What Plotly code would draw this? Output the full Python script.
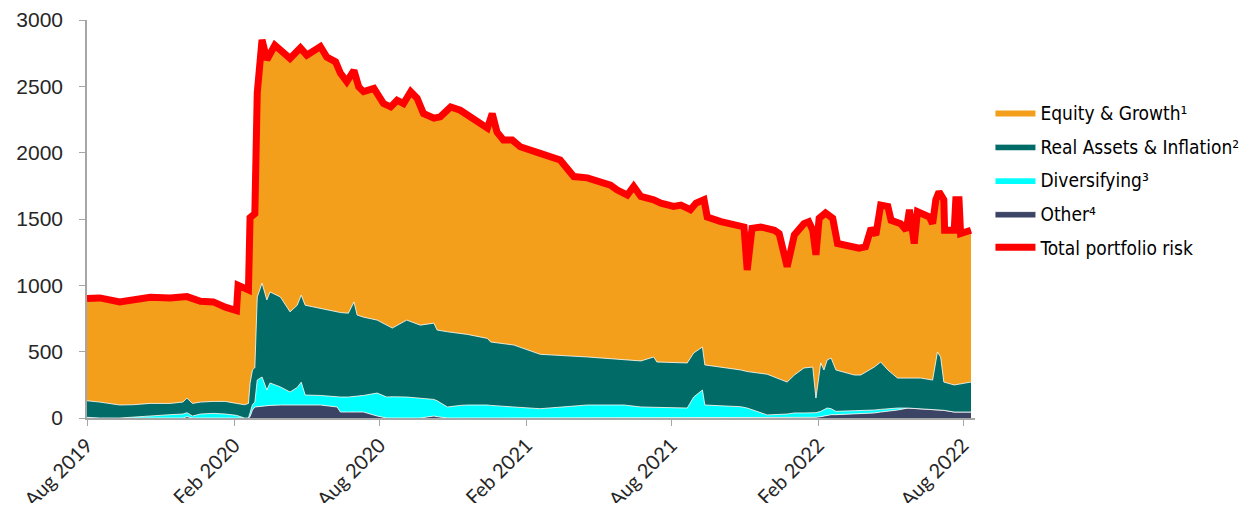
import plotly.graph_objects as go

# ---- Data ----
total_dates = [
    "2019-08-01", "2019-08-17", "2019-09-11", "2019-09-28", "2019-10-19", "2019-11-13", "2019-12-04",
    "2019-12-21", "2020-01-06", "2020-01-21", "2020-02-04", "2020-02-06", "2020-02-14", "2020-02-19",
    "2020-02-21", "2020-02-27", "2020-03-01", "2020-03-07", "2020-03-13", "2020-03-23", "2020-04-11",
    "2020-04-24", "2020-05-02", "2020-05-19", "2020-05-27", "2020-06-07", "2020-06-13", "2020-06-21",
    "2020-06-30", "2020-07-06", "2020-07-12", "2020-07-25", "2020-08-06", "2020-08-15", "2020-08-23",
    "2020-08-31", "2020-09-09", "2020-09-17", "2020-09-25", "2020-10-08", "2020-10-16", "2020-10-29",
    "2020-11-10", "2020-11-23", "2020-12-05", "2020-12-14", "2020-12-20", "2020-12-26", "2021-01-03",
    "2021-01-14", "2021-01-24", "2021-02-06", "2021-02-18", "2021-03-15", "2021-04-01", "2021-04-18",
    "2021-05-05", "2021-05-17", "2021-05-25", "2021-06-07", "2021-06-15", "2021-06-24", "2021-07-10",
    "2021-07-19", "2021-08-04", "2021-08-13", "2021-08-25", "2021-09-01", "2021-09-11", "2021-09-15",
    "2021-10-02", "2021-10-18", "2021-10-31", "2021-11-04", "2021-11-10", "2021-11-21", "2021-12-08",
    "2021-12-14", "2021-12-24", "2022-01-02", "2022-01-14", "2022-01-20", "2022-01-25", "2022-01-29",
    "2022-02-02", "2022-02-10", "2022-02-19", "2022-02-25", "2022-03-09", "2022-03-24", "2022-04-01",
    "2022-04-08", "2022-04-14", "2022-04-20", "2022-04-29", "2022-05-03", "2022-05-15", "2022-05-22",
    "2022-05-26", "2022-06-01", "2022-06-05", "2022-06-20", "2022-06-24", "2022-06-28", "2022-07-02",
    "2022-07-08", "2022-07-09", "2022-07-21", "2022-07-23", "2022-07-27", "2022-07-29", "2022-08-11",
]
total_risk = [
    900, 905, 875, 885, 910, 905, 915,
    880, 875, 835, 810, 1000, 975, 965,
    1510, 1540, 2450, 2850, 2700, 2810, 2710,
    2790, 2735, 2800, 2720, 2685, 2600, 2535,
    2620, 2495, 2460, 2485, 2370, 2345, 2395,
    2370, 2460, 2410, 2295, 2260, 2270, 2345,
    2320, 2270, 2210, 2185, 2295, 2155, 2095,
    2095, 2045, 2025, 1995, 1945, 1820, 1810,
    1770, 1755, 1720, 1680, 1745, 1670, 1645,
    1620, 1595, 1605, 1570, 1620, 1645, 1515,
    1480, 1455, 1440, 1115, 1430, 1440, 1415,
    1390, 1140, 1380, 1465, 1480, 1415, 1230,
    1505, 1545, 1505, 1315, 1300, 1280, 1290,
    1430, 1380, 1605, 1595, 1490, 1465, 1415,
    1570, 1315, 1555, 1515, 1465, 1645, 1705,
    1645, 1415, 1415, 1645, 1645, 1390, 1415,
]

comp_dates = [
    "2019-08-01", "2019-08-17", "2019-09-11", "2019-09-28", "2019-10-19", "2019-11-13", "2019-11-29",
    "2019-12-04", "2019-12-11", "2019-12-21", "2020-01-06", "2020-01-21", "2020-02-04", "2020-02-14",
    "2020-02-19", "2020-02-21", "2020-02-24", "2020-02-27", "2020-03-01", "2020-03-07", "2020-03-13",
    "2020-03-17", "2020-03-30", "2020-04-11", "2020-04-20", "2020-04-25", "2020-04-30", "2020-05-19",
    "2020-06-09", "2020-06-13", "2020-06-23", "2020-06-30", "2020-07-04", "2020-07-12", "2020-07-29",
    "2020-08-10", "2020-08-17", "2020-09-04", "2020-09-21", "2020-10-08", "2020-10-12", "2020-10-25",
    "2020-11-10", "2020-11-19", "2020-12-14", "2020-12-18", "2021-01-16", "2021-02-18", "2021-04-18",
    "2021-06-03", "2021-06-24", "2021-07-10", "2021-07-14", "2021-08-21", "2021-08-29", "2021-09-09",
    "2021-09-12", "2021-10-27", "2021-11-04", "2021-11-29", "2021-12-24", "2022-01-02", "2022-01-14",
    "2022-01-25", "2022-01-29", "2022-02-04", "2022-02-08", "2022-02-12", "2022-02-17", "2022-02-23",
    "2022-03-18", "2022-03-26", "2022-04-12", "2022-04-20", "2022-04-29", "2022-05-11", "2022-05-24",
    "2022-06-09", "2022-06-24", "2022-06-30", "2022-07-04", "2022-07-08", "2022-07-21", "2022-08-11",
]
other = [
    0, 0, 0, 0, 0, 0, 0,
    10, 0, 0, 0, 0, 0, 0,
    0, 10, 60, 83, 85, 90, 95,
    95, 98, 98, 98, 98, 98, 98,
    83, 45, 45, 45, 45, 45, 15,
    0, 0, 0, 0, 15, 10, 0,
    0, 0, 0, 0, 0, 0, 0,
    0, 0, 0, 0, 0, 0, 0,
    0, 0, 0, 0, 0, 0, 0,
    0, 5, 10, 15, 23, 25, 25,
    30, 30, 38, 45, 50, 60, 75,
    70, 65, 60, 60, 58, 45, 45,
]
diversifying = [
    5, 0, 0, 5, 15, 25, 30,
    30, 15, 30, 35, 30, 20, 0,
    0, 30, 40, 37, 201, 219, 116,
    169, 136, 98, 132, 172, 75, 72,
    75, 113, 113, 120, 120, 125, 173,
    158, 160, 158, 150, 125, 120, 83,
    95, 98, 98, 95, 83, 70, 98,
    98, 83, 80, 80, 75, 158, 211,
    98, 85, 75, 23, 30, 38, 38,
    38, 35, 40, 45, 52, 45, 25,
    25, 25, 22, 20, 20, 15, 0,
    0, 0, 0, 0, 0, 0, 0,
]
real_assets = [
    125, 120, 98, 95, 95, 85, 90,
    110, 95, 90, 90, 95, 90, 100,
    110, 220, 262, 260, 626, 708, 679,
    686, 678, 604, 620, 657, 677, 657,
    642, 637, 632, 710, 611, 590, 550,
    542, 518, 580, 550, 575, 533, 567,
    545, 532, 502, 478, 467, 410, 362,
    339, 347, 380, 342, 340, 332, 324,
    302, 277, 275, 307, 241, 286, 339,
    346, 110, 365, 302, 362, 382, 312,
    269, 269, 324, 357, 292, 226, 225,
    231, 221, 437, 400, 213, 204, 226,
]

tick_dates = ["2019-08-01", "2020-02-01", "2020-08-01", "2021-02-01", "2021-08-01", "2022-02-01", "2022-08-01"]
tick_labels = ["Aug 2019", "Feb 2020", "Aug 2020", "Feb 2021", "Aug 2021", "Feb 2022", "Aug 2022"]

names = ["Equity & Growth¹", "Real Assets & Inflation²", "Diversifying³", "Other⁴", "Total portfolio risk"]
colors = {"equity": "#F49F1C", "real": "#016B68", "div": "#00FFFF", "other": "#3C4465", "total": "#FF0000"}

fig = go.Figure()

# Equity & Growth fills the band between the lower stack and total; drawn first, lower stack covers it.
fig.add_trace(go.Scatter(x=total_dates, y=total_risk, name=names[0], mode="lines", fill="tozeroy",
                         line=dict(width=0, color=colors["equity"]), fillcolor=colors["equity"],
                         legendrank=1, legendgroup="g1"))
edge = dict(color="white", width=0.8)
fig.add_trace(go.Scatter(x=comp_dates, y=other, name=names[3], stackgroup="lower", mode="lines",
                         line=edge, fillcolor=colors["other"], legendrank=4, legendgroup="g4"))
fig.add_trace(go.Scatter(x=comp_dates, y=diversifying, name=names[2], stackgroup="lower", mode="lines",
                         line=edge, fillcolor=colors["div"], legendrank=3, legendgroup="g3"))
fig.add_trace(go.Scatter(x=comp_dates, y=real_assets, name=names[1], stackgroup="lower", mode="lines",
                         line=edge, fillcolor=colors["real"], legendrank=2, legendgroup="g2"))
fig.add_trace(go.Scatter(x=total_dates, y=total_risk, name=names[4], mode="lines",
                         line=dict(width=7, color=colors["total"]), legendrank=5, legendgroup="g5"))

axis_color = "#A6A6A6"
# The page body adds an 8px offset on every side, so the figure is sized to fit inside the window.
fig.update_layout(
    width=1235, height=495,
    margin=dict(l=79, r=268, t=12, b=85),
    paper_bgcolor="white", plot_bgcolor="white",
    showlegend=True,
    legend=dict(xref="container", yref="container", x=0.7955, y=0.827, xanchor="left", yanchor="top",
                font=dict(family="Liberation Sans Narrow, Arial Narrow, DejaVu Sans Condensed, sans-serif",
                          size=19, color="#000000"),
                traceorder="grouped", tracegroupgap=6, itemwidth=40, bgcolor="rgba(0,0,0,0)"),
    xaxis=dict(type="date", range=["2019-08-01", "2022-08-16"], automargin=False,
               tickvals=tick_dates, ticktext=tick_labels, tickangle=-45,
               showline=True, linecolor=axis_color, linewidth=1.5,
               ticks="outside", ticklen=6, tickcolor=axis_color,
               showgrid=False, zeroline=False,
               tickfont=dict(family="Lato, Open Sans, sans-serif", size=20, color="#262626")),
    yaxis=dict(range=[0, 3000], tickvals=[0, 500, 1000, 1500, 2000, 2500, 3000], automargin=False,
               showline=True, linecolor=axis_color, linewidth=1.5,
               ticks="outside", ticklen=6, tickcolor=axis_color, ticklabelstandoff=12,
               showgrid=False, zeroline=False,
               tickfont=dict(family="Liberation Sans, Arial, sans-serif", size=21, color="#262626")),
)

fig.write_html("out.html")
